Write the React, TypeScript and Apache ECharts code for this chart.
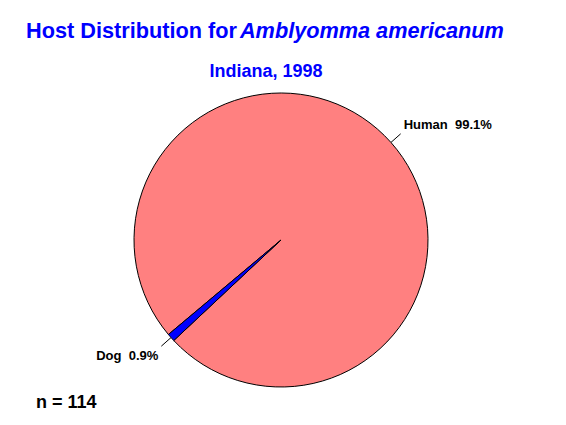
import React, { useEffect, useRef } from "react";
import * as echarts from "echarts";

const categories = ["Human", "Dog"];
const counts = [113, 1];
const colors = ["#FF8080", "#0000FF"];
const titleMain = "Host Distribution for";
const titleSpecies = "Amblyomma americanum";
const subtitle = "Indiana, 1998";
const totalLabel = "n = 114";
const total = counts.reduce((a, b) => a + b, 0);

const FONT = "'Liberation Sans', Arial, Helvetica, sans-serif";

export default function App() {
  const ref = useRef<HTMLDivElement>(null);
  useEffect(() => {
    if (!ref.current) return;
    const chart = echarts.init(ref.current, null, { renderer: "svg" });
    const pct = (v: number) => ((v / total) * 100).toFixed(1);
    chart.setOption({
      animation: false,
      backgroundColor: "#FFFFFF",
      title: [
        {
          text: `{a|${titleMain}}{b|${titleSpecies}}`,
          left: 260,
          top: 14,
          textAlign: "center",
          textStyle: {
            rich: {
              a: { fontFamily: FONT, fontSize: 21.7, fontWeight: "bold", color: "#0000FF" },
              b: { fontFamily: FONT, fontSize: 21.7, fontWeight: "bold", fontStyle: "italic", color: "#0000FF", padding: [0, 0, 0, 3] },
            },
          },
        },
        {
          text: subtitle,
          left: 261,
          top: 57,
          textAlign: "center",
          textStyle: { fontFamily: FONT, fontSize: 18, fontWeight: "bold", color: "#0000FF" },
        },
        {
          text: totalLabel,
          left: 31,
          top: 388,
          textStyle: { fontFamily: FONT, fontSize: 18, fontWeight: "bold", color: "#000000" },
        },
      ],
      series: [
        {
          type: "pie",
          center: [281, 240],
          radius: 147,
          startAngle: 220,
          clockwise: true,
          avoidLabelOverlap: false,
          data: categories.map((c, i) => ({
            name: c,
            value: counts[i],
            itemStyle: { color: colors[i] },
            label: {
              formatter:
                i === 0
                  ? `${c}  ${pct(counts[i])}%\n `
                  : ` \n${c}  ${pct(counts[i])}%`,
            },
          })),
          itemStyle: { borderColor: "#000000", borderWidth: 1 },
          label: {
            show: true,
            fontFamily: FONT,
            fontSize: 13,
            lineHeight: 19,
            fontWeight: "bold",
            color: "#000000",
            distanceToLabelLine: 3,
          },
          labelLine: {
            show: true,
            length: 13,
            length2: 0,
            lineStyle: { color: "#000000", width: 1 },
          },
          emphasis: { disabled: true },
        },
      ],
    });
    return () => chart.dispose();
  }, []);
  return (
    <div
      ref={ref}
      style={{ position: "fixed", left: 0, top: 0, width: 566, height: 425 }}
    />
  );
}
